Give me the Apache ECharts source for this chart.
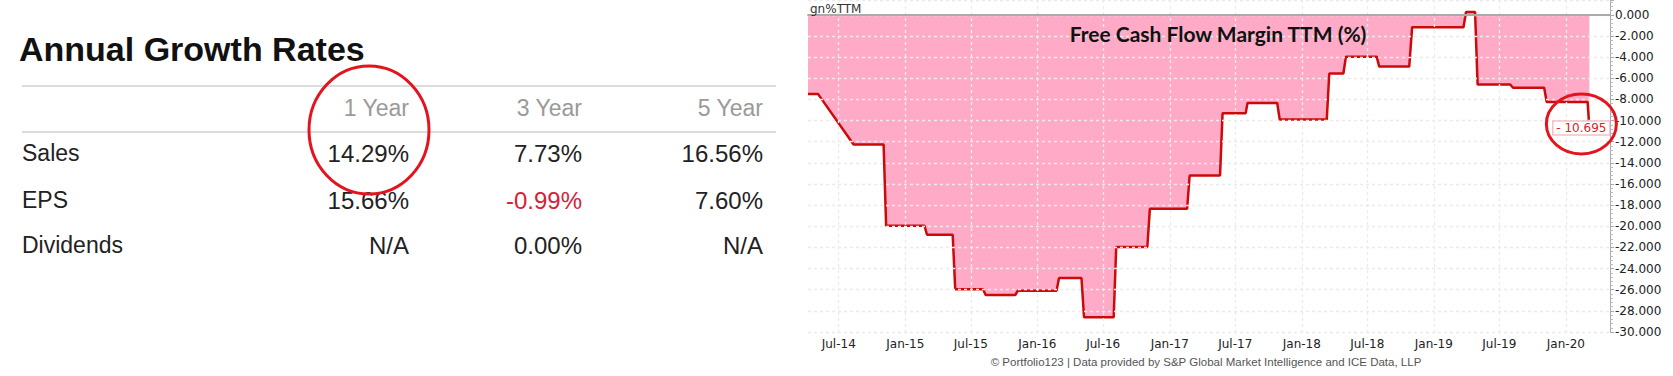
<!DOCTYPE html>
<html>
<head>
<meta charset="utf-8">
<script src="https://cdn.jsdelivr.net/npm/echarts@6/dist/echarts.min.js"></script>
<style>
html,body{margin:0;padding:0;background:#fff;}
#main{width:1673px;height:376px;}
</style>
</head>
<body>
<div id="main"></div>
<script>
// ---- Table data ----
const tableTitle = 'Annual Growth Rates';
const colHeaders = ['1 Year', '3 Year', '5 Year'];
const rowLabels = ['Sales', 'EPS', 'Dividends'];
const salesValues = ['14.29%', '7.73%', '16.56%'];
const epsValues = ['15.66%', '-0.99%', '7.60%'];
const dividendValues = ['N/A', '0.00%', 'N/A'];

// ---- Chart data ----
const chartTitle = 'Free Cash Flow Margin TTM (%)';
const seriesName = 'gn%TTM';
const footerText = '\u00A9 Portfolio123 | Data provided by S&P Global Market Intelligence and ICE Data, LLP';
const dates = ['2014-04-07','2014-05-05','2014-08-11','2014-11-02','2014-11-09','2015-02-23','2015-03-02','2015-05-12','2015-05-19','2015-08-04','2015-08-11','2015-11-01','2015-11-08','2016-02-23','2016-03-01','2016-05-02','2016-05-09','2016-07-30','2016-08-06','2016-10-31','2016-11-07','2017-02-18','2017-02-25','2017-05-20','2017-05-27','2017-07-30','2017-08-04','2017-10-25','2017-11-01','2018-03-11','2018-03-18','2018-04-26','2018-05-03','2018-07-27','2018-08-03','2018-10-25','2018-11-02','2019-03-24','2019-03-31','2019-04-25','2019-05-02','2019-07-31','2019-08-08','2019-11-02','2019-11-09','2020-03-01','2020-03-06'];
const values = [-7.5,-7.5,-12.26,-12.26,-19.96,-19.96,-20.8,-20.8,-25.95,-25.95,-26.5,-26.5,-26.1,-26.1,-24.9,-24.9,-28.6,-28.6,-21.96,-21.96,-18.35,-18.35,-15.2,-15.2,-9.3,-9.3,-8.33,-8.33,-9.9,-9.9,-5.55,-5.55,-3.96,-3.96,-4.9,-4.9,-1.17,-1.17,0.26,0.26,-6.59,-6.59,-6.9,-6.9,-8.24,-8.24,-10.695];
const xTickDates = ['2014-07-01','2015-01-01','2015-07-01','2016-01-01','2016-07-01','2017-01-01','2017-07-01','2018-01-01','2018-07-01','2019-01-01','2019-07-01','2020-01-01'];
const xMin = '2014-04-07';
const xMax = '2020-05-02';
const yMin = -30, yMax = 1.4, yInterval = 2;

const monthNames = ['Jan','Feb','Mar','Apr','May','Jun','Jul','Aug','Sep','Oct','Nov','Dec'];
const toTime = d => Date.UTC(+d.slice(0,4), +d.slice(5,7) - 1, +d.slice(8,10));
const tickTimes = xTickDates.map(toTime);
const seriesData = dates.map((d, i) => [toTime(d), values[i]]);
const lastPoint = seriesData[seriesData.length - 1];

const chart = echarts.init(document.getElementById('main'), null, {renderer: 'svg'});

// Build table graphics
const rowsData = [salesValues, epsValues, dividendValues];
const colRight = [409, 582, 763];
const rowY = [153, 200, 245];
const graphics = [];
graphics.push({type:'text', x: 19, y: 49, style:{text: tableTitle, verticalAlign:'middle', font: 'bold 34px "Liberation Sans", Arial, sans-serif', fill:'#111'}});
graphics.push({type:'line', shape:{x1:22,y1:86,x2:776,y2:86}, style:{stroke:'#dcdcdc', lineWidth:2}});
graphics.push({type:'line', shape:{x1:22,y1:132,x2:776,y2:132}, style:{stroke:'#dcdcdc', lineWidth:2}});
colHeaders.forEach((h, i) => {
  graphics.push({type:'text', x: colRight[i], y: 108, style:{text:h, align:'right', verticalAlign:'middle', font:'23px "Liberation Sans", Arial, sans-serif', fill:'#9a9a9a'}});
});
rowLabels.forEach((r, j) => {
  graphics.push({type:'text', x: 22, y: rowY[j], style:{text:r, align:'left', verticalAlign:'middle', font:'23px "Liberation Sans", Arial, sans-serif', fill:'#222'}});
  rowsData[j].forEach((v, i) => {
    const neg = v.trim().charAt(0) === '-';
    graphics.push({type:'text', x: colRight[i], y: rowY[j], style:{text:v, align:'right', verticalAlign:'middle', font:'24px "Liberation Sans", Arial, sans-serif', fill: neg ? '#d8203a' : '#222'}});
  });
});
graphics.push({type:'ellipse', shape:{cx:369, cy:130, rx:60, ry:64}, style:{fill:'none', stroke:'#e3141e', lineWidth:3}, z: 10});
graphics.push({type:'text', x: 810, y: 3, style:{text: seriesName, font:'12px "DejaVu Sans", sans-serif', fill:'#333'}, z: 10});
graphics.push({type:'text', x: 1218, y: 33, style:{text: chartTitle, align:'center', verticalAlign:'middle', font:'bold 21px Lato, "Open Sans", sans-serif', fill:'#111'}, z: 10});
graphics.push({type:'text', x: 1206, y: 362, style:{text: footerText, align:'center', verticalAlign:'middle', font:'11.5px "Liberation Sans", Arial, sans-serif', fill:'#555'}, z: 10});

const option = {
  animation: false,
  backgroundColor: '#fff',
  grid: {left: 808, right: 63, top: 0, bottom: 44, containLabel: false},
  xAxis: {
    type: 'value',
    min: toTime(xMin), max: toTime(xMax),
    z: 5,
    axisLine: {show: true, lineStyle: {color: '#aaa', width: 2}},
    axisTick: {show: false, customValues: tickTimes},
    axisLabel: {
      customValues: tickTimes,
      margin: 6,
      color: '#222',
      fontSize: 12,
      fontFamily: 'DejaVu Sans',
      formatter: v => { const d = new Date(v); return monthNames[d.getUTCMonth()] + '-' + String(d.getUTCFullYear()).slice(2); }
    },
    splitLine: {show: true, lineStyle: {color: '#ebebeb', type: [3, 3], width: 1.3}}
  },
  yAxis: {
    type: 'value',
    position: 'right',
    min: yMin, max: yMax, interval: yInterval,
    z: 5,
    axisLine: {show: true, lineStyle: {color: '#aaa', width: 1}},
    axisTick: {show: true, length: 4, lineStyle: {color: '#aaa'}},
    minorTick: {show: true, splitNumber: 5, length: 3, lineStyle: {color: '#bbb'}},
    axisLabel: {
      showMaxLabel: false,
      margin: 5,
      color: '#222',
      fontSize: 12,
      fontFamily: 'DejaVu Sans',
      formatter: v => v.toFixed(3)
    },
    splitLine: {show: true, lineStyle: {color: '#ebebeb', type: [3, 3], width: 1.3}}
  },
  series: [{
    name: seriesName,
    type: 'line',
    data: seriesData,
    showSymbol: false,
    symbol: 'none',
    lineStyle: {color: '#cc0a0a', width: 2.5},
    areaStyle: {color: '#ffabc7', opacity: 1, origin: 0},
    markLine: {
      silent: true, symbol: 'none', label: {show: false},
      lineStyle: {color: '#333', type: 'solid', width: 1.5},
      data: [{yAxis: 0}]
    },
    markPoint: {
      silent: true,
      symbol: 'rect', symbolSize: 0,
      data: [{coord: lastPoint, value: lastPoint[1]}],
      label: {
        show: true, position: 'inside', offset: [-8, 0],
        formatter: p => (p.value < 0 ? '- ' : '') + Math.abs(p.value).toFixed(3),
        color: '#e0202a', fontSize: 12, fontFamily: 'DejaVu Sans',
        backgroundColor: '#fff', borderColor: '#f2a0a8', borderWidth: 1,
        padding: [1, 3, 0, 3]
      }
    }
  }],
  graphic: graphics
};
chart.setOption(option);

const lastPix = chart.convertToPixel({seriesIndex: 0}, lastPoint);
chart.setOption({graphic: graphics.concat([{type:'ellipse', shape:{cx: lastPix[0] - 8, cy: lastPix[1] - 4, rx: 35, ry: 30}, style:{fill:'none', stroke:'#e3141e', lineWidth:3}, z: 20}])}, {replaceMerge: ['graphic']});
</script>
</body>
</html>
